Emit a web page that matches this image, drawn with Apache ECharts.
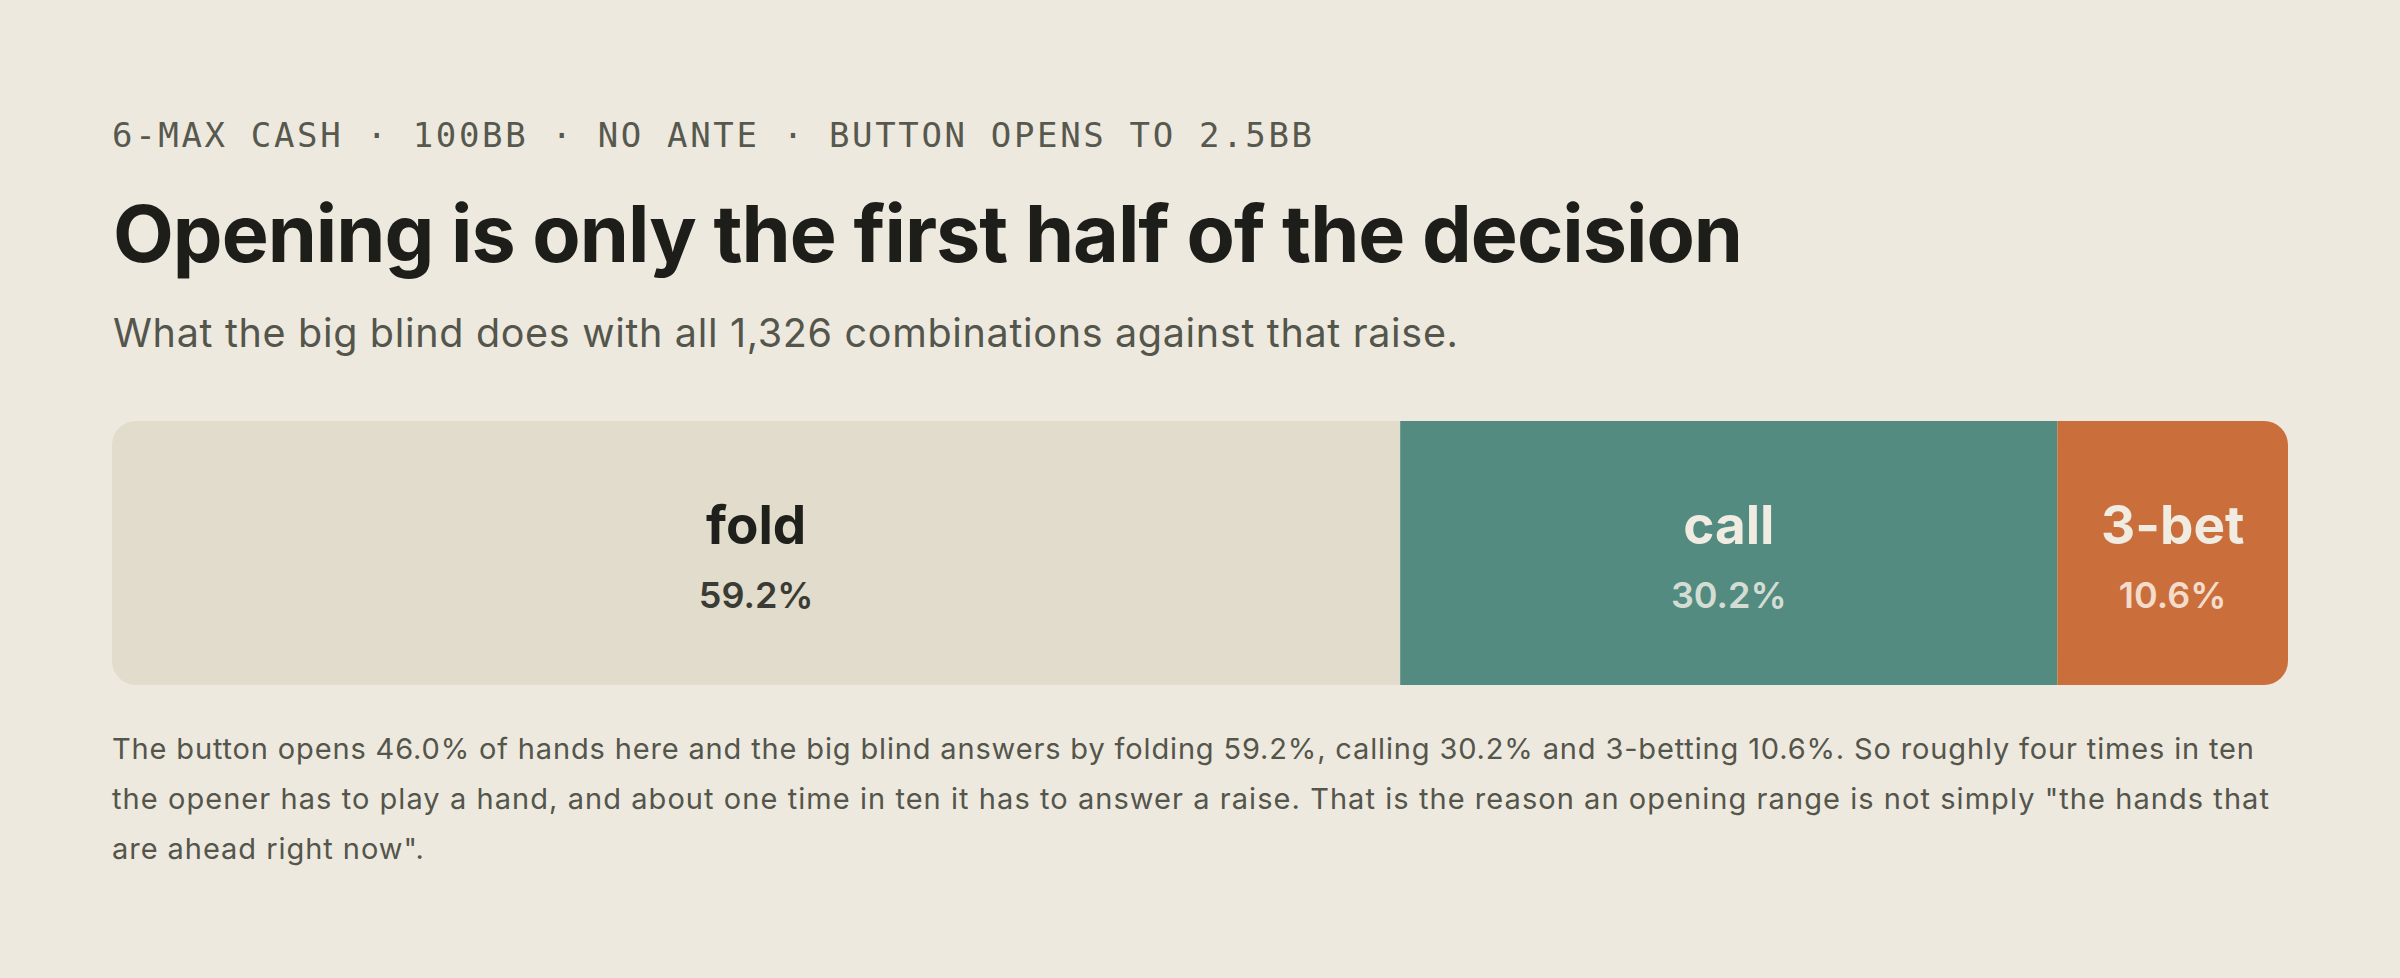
<!DOCTYPE html>
<html><head><meta charset="utf-8">
<script src="https://cdn.jsdelivr.net/npm/echarts@6/dist/echarts.min.js"></script>
<style>html,body{margin:0;padding:0;background:#EDE9DF;}#c{width:2400px;height:978px;}</style>
</head><body><div id="c"></div>
<script>
// ---- data ----
const categories = ['fold', 'call', '3-bet'];
const shares = [59.2, 30.2, 10.6];
const rowLabel = ['BB'];
const kicker = '6-MAX CASH \u00B7 100BB \u00B7 NO ANTE \u00B7 BUTTON OPENS TO 2.5BB';
const titleText = 'Opening is only the first half of the decision';
const subText = 'What the big blind does with all 1,326 combinations against that raise.';
const noteLines = [
  'The button opens 46.0% of hands here and the big blind answers by folding ' + shares[0].toFixed(1) + '%, calling ' + shares[1].toFixed(1) + '% and 3-betting ' + shares[2].toFixed(1) + '%. So roughly four times in ten',
  'the opener has to play a hand, and about one time in ten it has to answer a raise. That is the reason an opening range is not simply "the hands that',
  'are ahead right now".'
];

// ---- style ----
const fills = ['#E1DCCC', '#538B80', '#CA6F3B'];
const nameColors = ['#1F201B', '#F0ECE2', '#F0ECE2'];
const pctColors = ['#3A3B34', '#D3DDD3', '#F3DCCB'];
const R = 24;
const radii = [[R, 0, 0, R], [0, 0, 0, 0], [0, R, R, 0]];

const chart = echarts.init(document.getElementById('c'), null, {renderer: 'svg'});

const series = categories.map((name, i) => ({
  name: name,
  type: 'bar',
  stack: 'all',
  barWidth: '100%',
  data: [shares[i]],
  itemStyle: {color: fills[i], borderRadius: radii[i]},
  emphasis: {disabled: true},
  label: {
    show: true,
    position: 'inside',
    formatter: () => '{n|' + name + '}\n{p|' + shares[i].toFixed(1) + '%}',
    rich: {
      n: {fontFamily: 'Inter', fontWeight: 700, fontSize: 53, color: nameColors[i], lineHeight: 84, align: 'center'},
      p: {fontFamily: 'Inter', fontWeight: 600, fontSize: 36, color: pctColors[i], lineHeight: 57, align: 'center'}
    }
  }
}));

const graphics = [
  {type: 'text', id: 'kicker', x: 112, y: 134.5, style: {text: kicker, font: '400 34px "DejaVu Sans Mono"', fill: '#57584E', verticalAlign: 'middle', align: 'left'}},
  {type: 'text', id: 'title', x: 113, y: 233, style: {text: titleText, font: '700 79px Inter', fill: '#1D1E19', verticalAlign: 'middle', align: 'left'}},
  {type: 'text', id: 'sub', x: 113, y: 333, style: {text: subText, font: '400 39.5px Inter', fill: '#54554B', verticalAlign: 'middle', align: 'left'}}
];
const noteY = [748, 798, 848];
noteLines.forEach((t, i) => graphics.push({type: 'text', id: 'note' + i, x: 112, y: noteY[i], style: {text: t, font: '400 29px Inter', fill: '#54554B', verticalAlign: 'middle', align: 'left'}}));

chart.setOption({
  animation: false,
  backgroundColor: '#EDE9DF',
  grid: {left: 112, right: 112, top: 421, bottom: 293, containLabel: false},
  xAxis: {type: 'value', min: 0, max: 100, show: false},
  yAxis: {type: 'category', data: rowLabel, show: false},
  series: series,
  graphic: graphics
});

// fit letter-spacing of left-aligned texts to the reference widths
const targets = {};
targets[kicker] = 1200;
targets[titleText] = 1630;
targets[subText] = 1345;
targets[noteLines[0]] = 2142;
targets[noteLines[1]] = 2157;
function fit() {
  const svg = document.querySelector('#c svg');
  if (!svg) return;
  const texts = Array.from(svg.querySelectorAll('text'));
  let noteLs = [];
  texts.forEach(t => {
    const s = t.textContent;
    if (targets[s] !== undefined) {
      t.setAttribute('letter-spacing', '0px');
      const nat = t.getComputedTextLength();
      const n = Array.from(s).length;
      const ls = (targets[s] - nat) / (n - 1);
      t.setAttribute('letter-spacing', ls.toFixed(3) + 'px');
      if (s === noteLines[0] || s === noteLines[1]) noteLs.push(ls);
    }
  });
  const last = texts.find(t => t.textContent === noteLines[2]);
  if (last && noteLs.length) {
    const avg = noteLs.reduce((a, b) => a + b, 0) / noteLs.length;
    last.setAttribute('letter-spacing', avg.toFixed(3) + 'px');
  }
}
fit();
chart.on('finished', fit);
if (document.fonts && document.fonts.ready) document.fonts.ready.then(fit);
setTimeout(fit, 300);
</script>
</body></html>
